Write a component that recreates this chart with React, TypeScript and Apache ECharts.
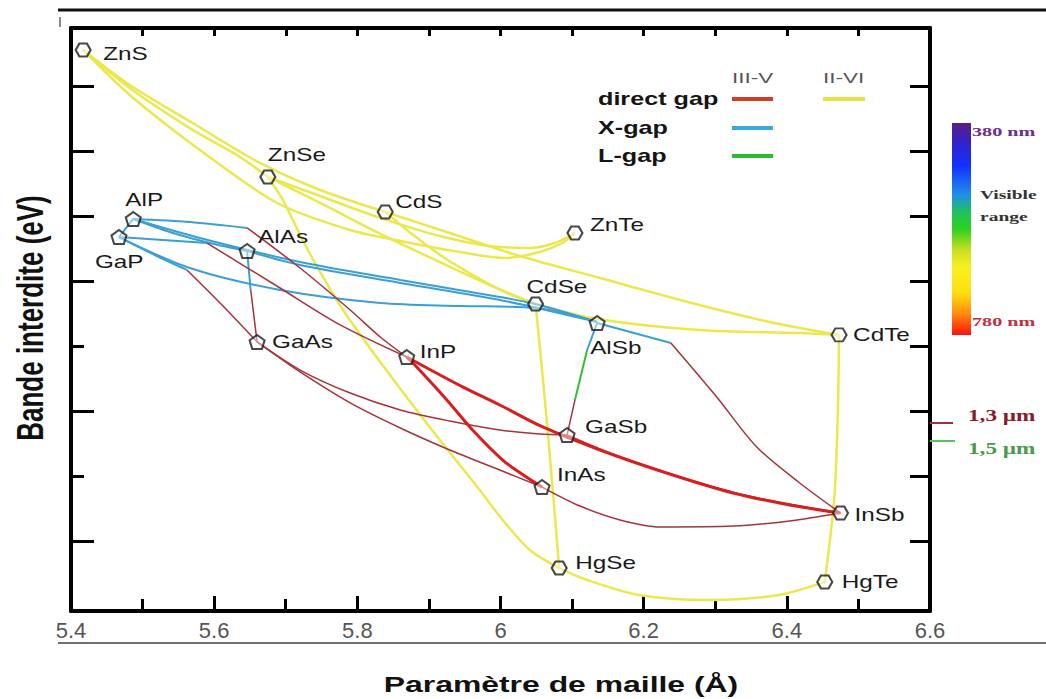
import React, { useEffect, useRef } from "react";
import * as echarts from "echarts";

// ---------------- data ----------------
// lattice parameter (Å) and band gap (eV) of the binary compounds
const compounds = ["ZnS", "ZnSe", "CdS", "ZnTe", "CdSe", "CdTe", "HgSe", "HgTe", "AlP", "GaP", "AlAs", "GaAs", "InP", "AlSb", "GaSb", "InAs", "InSb"];
const latticeA = [5.417, 5.675, 5.839, 6.104, 6.049, 6.473, 6.082, 6.453, 5.487, 5.467, 5.646, 5.66, 5.869, 6.135, 6.093, 6.058, 6.475];
const bandGapEV = [3.777, 2.8, 2.531, 2.369, 1.823, 1.585, -0.208, -0.315, 2.477, 2.338, 2.231, 1.531, 1.415, 1.677, 0.815, 0.415, 0.215];
const family = ["II-VI", "II-VI", "II-VI", "II-VI", "II-VI", "II-VI", "II-VI", "II-VI", "III-V", "III-V", "III-V", "III-V", "III-V", "III-V", "III-V", "III-V", "III-V"];

const xTickValues = [5.4, 5.6, 5.8, 6.0, 6.2, 6.4, 6.6];
const xTickLabels = ["5.4", "5.6", "5.8", "6", "6.2", "6.4", "6.6"];
const yTickValues = [0, 0.5, 1, 1.5, 2, 2.5, 3, 3.5];
const yMin = -0.5385;
const yMax = 3.946;

// ternary alloy curves [lattice Å, gap eV]
const ZnS_ZnSe = [[5.417, 3.777], [5.482, 3.485], [5.57, 3.162], [5.636, 2.954], [5.675, 2.8]];
const ZnS_CdS = [[5.417, 3.777], [5.482, 3.508], [5.57, 3.215], [5.664, 2.908], [5.748, 2.7], [5.839, 2.531]];
const ZnS_ZnTe = [[5.417, 3.777], [5.482, 3.431], [5.58, 3.008], [5.688, 2.6], [5.79, 2.392], [5.86, 2.308], [5.943, 2.223], [6.006, 2.177], [6.055, 2.223], [6.086, 2.292], [6.104, 2.369]];
const ZnSe_ZnTe = [[5.675, 2.8], [5.748, 2.654], [5.832, 2.485], [5.915, 2.346], [5.985, 2.269], [6.041, 2.254], [6.076, 2.292], [6.104, 2.369]];
const ZnSe_CdSe = [[5.675, 2.8], [5.748, 2.6], [5.832, 2.362], [5.915, 2.146], [5.985, 1.969], [6.049, 1.823]];
const CdS_CdSe = [[5.839, 2.531], [5.88, 2.346], [5.922, 2.177], [5.964, 2.038], [6.006, 1.915], [6.049, 1.823]];
const CdS_CdTe = [[5.839, 2.531], [5.929, 2.369], [6.027, 2.192], [6.139, 2.023], [6.278, 1.815], [6.376, 1.685], [6.473, 1.585]];
const CdSe_CdTe = [[6.049, 1.823], [6.135, 1.708], [6.278, 1.623], [6.418, 1.6], [6.473, 1.585]];
const CdSe_HgSe = [[6.049, 1.823], [6.062, 1.085], [6.073, 0.392], [6.082, -0.208]];
const ZnSe_HgSe = [[5.675, 2.8], [5.696, 2.623], [5.72, 2.354], [5.744, 2.108], [5.78, 1.777], [5.832, 1.377], [5.901, 0.877], [5.971, 0.392], [6.003, 0.162], [6.041, -0.069], [6.082, -0.208]];
const HgSe_HgTe = [[6.082, -0.208], [6.121, -0.3], [6.193, -0.415], [6.291, -0.454], [6.389, -0.415], [6.453, -0.315]];
const CdTe_HgTe = [[6.473, 1.585], [6.471, 0.931], [6.466, 0.315], [6.453, -0.315]];

const AlAs_GaAs_X = [[5.646, 2.231], [5.651, 1.931]];
const AlAs_GaAs_D = [[5.651, 1.931], [5.66, 1.531]];
const GaAs_GaSb = [[5.66, 1.531], [5.72, 1.315], [5.79, 1.138], [5.86, 1.008], [5.929, 0.923], [5.999, 0.854], [6.055, 0.823], [6.093, 0.815]];
const GaAs_InAs = [[5.66, 1.531], [5.72, 1.3], [5.79, 1.062], [5.86, 0.869], [5.929, 0.7], [5.999, 0.546], [6.058, 0.415]];
const InAs_InSb = [[6.058, 0.415], [6.111, 0.269], [6.167, 0.162], [6.223, 0.108], [6.325, 0.115], [6.404, 0.154], [6.475, 0.215]];
const InP_InSb = [[5.869, 1.415], [5.947, 1.185], [5.999, 1.046], [6.059, 0.877], [6.139, 0.7], [6.232, 0.523], [6.325, 0.369], [6.404, 0.277], [6.475, 0.215]];
const GaSb_InSb = [[6.093, 0.815], [6.167, 0.646], [6.251, 0.492], [6.334, 0.362], [6.411, 0.277], [6.475, 0.215]];
const InP_InAs = [[5.869, 1.415], [5.883, 1.338], [5.925, 1.085], [5.961, 0.854], [6.003, 0.623], [6.034, 0.5], [6.058, 0.415]];
const AlSb_InSb_X = [[6.135, 1.677], [6.238, 1.523]];
const AlSb_InSb_D = [[6.238, 1.523], [6.302, 1.108], [6.358, 0.723], [6.418, 0.446], [6.475, 0.215]];
const AlSb_GaSb_X = [[6.135, 1.677], [6.121, 1.469]];
const AlSb_GaSb_L = [[6.121, 1.469], [6.104, 1.085]];
const AlSb_GaSb_D = [[6.104, 1.085], [6.093, 0.815]];
const GaP_GaAs_X = [[5.467, 2.338], [5.517, 2.2], [5.562, 2.085]];
const GaP_GaAs_D = [[5.562, 2.085], [5.611, 1.815], [5.66, 1.531]];
const GaP_InP_X = [[5.467, 2.338], [5.59, 2.292]];
const GaP_InP_D = [[5.59, 2.292], [5.692, 1.946], [5.776, 1.662], [5.869, 1.415]];
const AlP_InP_X = [[5.487, 2.477], [5.566, 2.454], [5.646, 2.408]];
const AlP_InP_D = [[5.646, 2.408], [5.72, 2.1], [5.79, 1.777], [5.832, 1.569], [5.869, 1.415]];
const AlP_AlAs = [[5.487, 2.477], [5.538, 2.377], [5.594, 2.292], [5.646, 2.231]];
const GaP_AlP = [[5.467, 2.338], [5.487, 2.477]];
const AlP_AlSb = [[5.487, 2.477], [5.58, 2.331], [5.72, 2.146], [5.86, 2.008], [5.999, 1.877], [6.049, 1.823], [6.135, 1.685]];
const AlAs_AlSb = [[5.646, 2.231], [5.72, 2.123], [5.86, 1.985], [5.999, 1.854], [6.135, 1.685]];
const GaP_AlSb = [[5.467, 2.338], [5.566, 2.1], [5.692, 1.931], [5.832, 1.831], [5.943, 1.808], [6.049, 1.792], [6.135, 1.685]];

const segments = [
  { pts: ZnS_ZnSe, gap: "II-VI" }, { pts: ZnS_CdS, gap: "II-VI" }, { pts: ZnS_ZnTe, gap: "II-VI" },
  { pts: ZnSe_ZnTe, gap: "II-VI" }, { pts: ZnSe_CdSe, gap: "II-VI" }, { pts: CdS_CdSe, gap: "II-VI" },
  { pts: CdS_CdTe, gap: "II-VI" }, { pts: CdSe_CdTe, gap: "II-VI" }, { pts: CdSe_HgSe, gap: "II-VI" },
  { pts: ZnSe_HgSe, gap: "II-VI" }, { pts: HgSe_HgTe, gap: "II-VI" }, { pts: CdTe_HgTe, gap: "II-VI" },
  { pts: AlP_AlAs, gap: "X" }, { pts: GaP_AlP, gap: "X" }, { pts: AlP_AlSb, gap: "X" },
  { pts: AlAs_AlSb, gap: "X" }, { pts: GaP_AlSb, gap: "X" }, { pts: AlAs_GaAs_X, gap: "X" },
  { pts: AlSb_InSb_X, gap: "X" }, { pts: AlSb_GaSb_X, gap: "X" }, { pts: GaP_GaAs_X, gap: "X" },
  { pts: GaP_InP_X, gap: "X" }, { pts: AlP_InP_X, gap: "X" }, { pts: AlSb_GaSb_L, gap: "L" },
  { pts: AlAs_GaAs_D, gap: "direct" }, { pts: GaAs_GaSb, gap: "direct" }, { pts: GaAs_InAs, gap: "direct" },
  { pts: InAs_InSb, gap: "direct" }, { pts: GaSb_InSb, gap: "direct" }, { pts: AlSb_InSb_D, gap: "direct" },
  { pts: AlSb_GaSb_D, gap: "direct" }, { pts: GaP_GaAs_D, gap: "direct" }, { pts: GaP_InP_D, gap: "direct" },
  { pts: AlP_InP_D, gap: "direct" }, { pts: InP_InSb, gap: "directStrong" }, { pts: InP_InAs, gap: "directStrong" },
];

// ---------------- styles / layout ----------------
const SANS = "'Liberation Sans', Arial, Helvetica, sans-serif";
const SERIF = "'Liberation Serif', 'Times New Roman', serif";
const HEX = "path://M0,6L3.5,0L10.5,0L14,6L10.5,12L3.5,12Z";
const PENT = "path://M7,0L14,5L11.5,13L2.5,13L0,5Z";
const HEX_ALSO = ["InSb"];
const SHORT_LEFT_TICKS = [0.5, 1.5];

const GAP_STYLE: Record<string, { color: string; width: number; z: number }> = {
  "II-VI": { color: "#ebe84d", width: 2.5, z: 2 },
  X: { color: "#3a9fd4", width: 2, z: 3 },
  L: { color: "#2fbf3a", width: 2, z: 3 },
  direct: { color: "#a8323a", width: 1.5, z: 4 },
  directStrong: { color: "#d81e1e", width: 3, z: 4 },
};

const LABEL_OFFSET: Record<string, [number, number]> = {
  ZnS: [20, 4], ZnSe: [0, -22], CdS: [10, -10], ZnTe: [15, -8], CdSe: [-9, -17], CdTe: [14, 0],
  HgSe: [16, -5], HgTe: [17, 0], AlP: [-8, -19], GaP: [-24, 25], AlAs: [11, -14], GaAs: [15, 0],
  InP: [13, -5], AlSb: [-7, 25], GaSb: [18, -8], InAs: [15, -12], InSb: [14, 2],
};

function txt(text: string, x: number, y: number, o: any = {}) {
  return {
    type: "text",
    x,
    y,
    rotation: o.rotation || 0,
    scaleX: o.scaleX || 1,
    scaleY: o.scaleY || 1,
    z: 30,
    style: {
      text,
      fill: o.fill || "#111",
      fontSize: o.fontSize || 18,
      fontFamily: o.fontFamily || SANS,
      fontWeight: o.fontWeight || "normal",
      align: o.align || "left",
      textAlign: o.align || "left",
      verticalAlign: "middle",
      textVerticalAlign: "middle",
    },
  };
}

function seg(x1: number, y1: number, x2: number, y2: number, stroke: string, lineWidth: number) {
  return { type: "line", z: 30, shape: { x1, y1, x2, y2 }, style: { stroke, lineWidth } };
}

export default function App() {
  const ref = useRef<HTMLDivElement>(null);

  useEffect(() => {
    document.body.style.margin = "0";
    const chart = echarts.init(ref.current as HTMLDivElement, null, { renderer: "svg" });

    const axisLine = { onZero: false, lineStyle: { color: "#000", width: 4 } };
    const tickStyle = { color: "#000", width: 3 };

    const lineSeries = segments.map((s) => {
      const st = GAP_STYLE[s.gap];
      return {
        type: "line",
        xAxisIndex: 0,
        yAxisIndex: 0,
        data: s.pts,
        smooth: s.pts.length > 2 ? 0.3 : false,
        showSymbol: false,
        symbol: "none",
        silent: true,
        z: st.z,
        lineStyle: { color: st.color, width: st.width },
      };
    });

    const markerSeries = {
      type: "scatter",
      xAxisIndex: 0,
      yAxisIndex: 0,
      z: 10,
      silent: true,
      data: compounds.map((name, i) => ({
        name,
        value: [latticeA[i], bandGapEV[i]],
        symbol: family[i] === "II-VI" || HEX_ALSO.includes(name) ? HEX : PENT,
        symbolSize: family[i] === "II-VI" || HEX_ALSO.includes(name) ? [15, 13] : [15, 14],
      })),
      itemStyle: { color: "rgba(255,255,255,0.55)", borderColor: "#1a1a1a", borderWidth: 2 },
    };

    chart.setOption({
      animation: false,
      grid: { left: 71, right: 116, top: 28, bottom: 88, containLabel: false },
      xAxis: [
        {
          type: "value", min: 5.4, max: 6.6, interval: 0.2, position: "bottom",
          axisLine, axisTick: { inside: true, length: 15, lineStyle: tickStyle },
          minorTick: { show: true, splitNumber: 2, length: 12, lineStyle: tickStyle },
          axisLabel: {
            color: "#555", fontSize: 22, fontFamily: SANS, margin: 8,
            formatter: (v: number) => {
              const k = xTickValues.findIndex((t) => Math.abs(t - v) < 1e-6);
              return k >= 0 ? xTickLabels[k] : "";
            },
          },
          splitLine: { show: false }, minorSplitLine: { show: false },
        },
        {
          type: "value", min: 5.4, max: 6.6, interval: 0.1, position: "top",
          axisLine, axisTick: { inside: true, length: 8, lineStyle: tickStyle },
          axisLabel: { show: false }, splitLine: { show: false },
        },
      ],
      yAxis: [
        {
          type: "value", min: yMin, max: yMax, position: "left", axisLine,
          axisTick: { inside: true, length: 23, customValues: yTickValues.filter((v) => !SHORT_LEFT_TICKS.includes(v)), lineStyle: tickStyle },
          axisLabel: { show: false }, splitLine: { show: false },
        },
        {
          type: "value", min: yMin, max: yMax, position: "left", axisLine: { show: false, onZero: false },
          axisTick: { inside: true, length: 13, customValues: SHORT_LEFT_TICKS, lineStyle: tickStyle },
          axisLabel: { show: false }, splitLine: { show: false },
        },
        {
          type: "value", min: yMin, max: yMax, position: "right", axisLine,
          axisTick: { inside: true, length: 20, customValues: yTickValues, lineStyle: tickStyle },
          axisLabel: { show: false }, splitLine: { show: false },
        },
      ],
      series: [...lineSeries, markerSeries],
    });

    const labels = compounds.map((name, i) => {
      const p = chart.convertToPixel({ xAxisIndex: 0, yAxisIndex: 0 }, [latticeA[i], bandGapEV[i]]) as number[];
      const off = LABEL_OFFSET[name] || [14, 0];
      return txt(name, p[0] + off[0], p[1] + off[1], { fontSize: 18, scaleX: 1.35, fill: "#1a1a1a" });
    });

    const spectrum = new echarts.graphic.LinearGradient(0, 0, 0, 1, [
      { offset: 0, color: "#5a2080" },
      { offset: 0.08, color: "#3a20c0" },
      { offset: 0.2, color: "#1030ff" },
      { offset: 0.34, color: "#2090e8" },
      { offset: 0.42, color: "#20c060" },
      { offset: 0.5, color: "#30d020" },
      { offset: 0.6, color: "#c8e020" },
      { offset: 0.68, color: "#f8f020" },
      { offset: 0.8, color: "#ffe010" },
      { offset: 0.9, color: "#ff8a10" },
      { offset: 1, color: "#ff1010" },
    ]);

    const statics = [
      seg(58, 10, 1046, 10, "#111", 3),
      seg(60, 17, 60, 27, "#666", 1.5),
      seg(58, 643, 1046, 643, "#707070", 2),
      txt("Paramètre de maille (Å)", 561, 684, { fontSize: 22, fontWeight: "bold", scaleX: 1.45, align: "center" }),
      txt("Bande interdite (eV)", 30, 318, { fontSize: 26, fontWeight: "bold", scaleY: 1.45, rotation: Math.PI / 2, align: "center" }),
      // legend
      txt("III-V", 732, 78, { fontSize: 15, scaleX: 1.5, fill: "#555" }),
      txt("II-VI", 823, 78, { fontSize: 15, scaleX: 1.5, fill: "#555" }),
      txt("direct gap", 598, 99, { fontSize: 18, fontWeight: "bold", scaleX: 1.4, fill: "#151515" }),
      txt("X-gap", 598, 128, { fontSize: 18, fontWeight: "bold", scaleX: 1.4, fill: "#151515" }),
      txt("L-gap", 598, 156, { fontSize: 18, fontWeight: "bold", scaleX: 1.4, fill: "#151515" }),
      seg(732, 99, 773, 99, "#d83a2a", 4),
      seg(823, 99, 865, 99, "#e8e040", 4),
      seg(732, 128, 773, 128, "#3aaad8", 4),
      seg(732, 156, 773, 156, "#2dbb2d", 4),
      // visible spectrum
      { type: "rect", z: 30, shape: { x: 952, y: 123, width: 19, height: 212 }, style: { fill: spectrum } },
      txt("380 nm", 972, 132, { fontSize: 13, fontFamily: SERIF, fontWeight: "bold", scaleX: 1.55, fill: "#6b2d8e" }),
      txt("Visible", 980, 195, { fontSize: 13, fontFamily: SERIF, fontWeight: "bold", scaleX: 1.5, fill: "#333" }),
      txt("range", 980, 217, { fontSize: 13, fontFamily: SERIF, fontWeight: "bold", scaleX: 1.5, fill: "#333" }),
      txt("780 nm", 972, 322, { fontSize: 13, fontFamily: SERIF, fontWeight: "bold", scaleX: 1.55, fill: "#c03040" }),
      seg(930, 423, 953, 423, "#a03040", 2),
      txt("1,3 µm", 968, 415, { fontSize: 16, fontFamily: SERIF, fontWeight: "bold", scaleX: 1.45, fill: "#8a1a2a" }),
      seg(930, 441, 955, 441, "#60c060", 2),
      txt("1,5 µm", 968, 448, { fontSize: 16, fontFamily: SERIF, fontWeight: "bold", scaleX: 1.45, fill: "#4a9a4a" }),
    ];

    chart.setOption({ graphic: [...statics, ...labels] });

    return () => chart.dispose();
  }, []);

  return <div ref={ref} style={{ width: 1046, height: 699 }} />;
}
